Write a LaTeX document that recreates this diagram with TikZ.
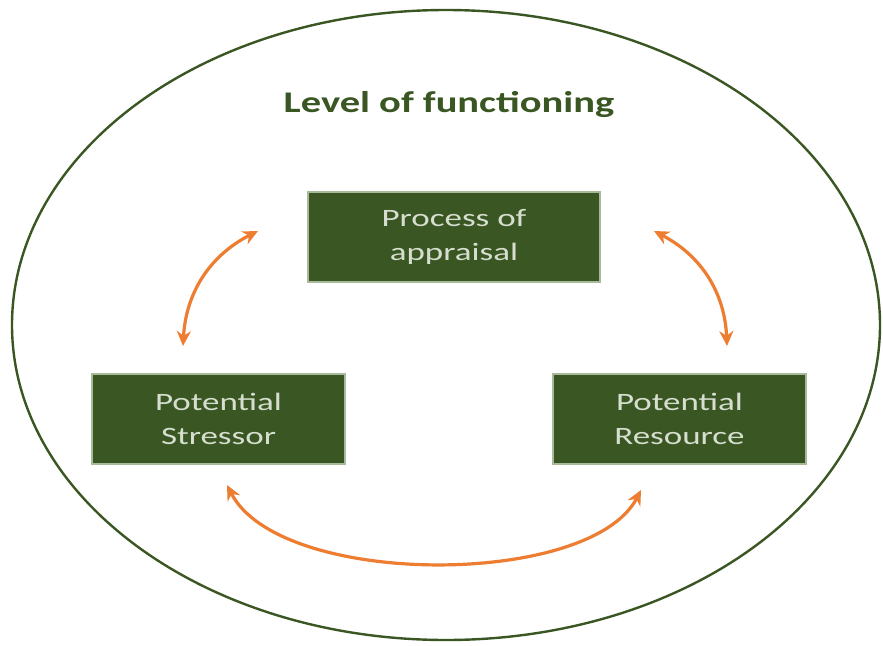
\documentclass[tikz,border=0pt]{standalone}
\usepackage{fontspec}
\setmainfont{Carlito}
\newfontfamily\boxfont[FakeStretch=1.4]{Carlito}
\newfontfamily\titlefont[FakeStretch=1.35]{Carlito}
\usetikzlibrary{arrows.meta,shapes.geometric}
\definecolor{darkgreen}{HTML}{3A5623}
\definecolor{edgegreen}{HTML}{A9B99C}
\definecolor{textgrey}{HTML}{D6DECF}
\definecolor{arroworange}{HTML}{ED7D31}
\tikzset{
  greenbox/.style={draw=edgegreen, line width=1.5pt, fill=darkgreen,
    minimum width=#1, minimum height=90pt, inner sep=0pt,
    text=textgrey, align=center,
    font=\boxfont\fontsize{25}{34}\selectfont},
  greenbox/.default=253pt,
  link/.style={draw=arroworange, line width=3.2pt,
    {Stealth[length=15pt,width=14pt]}-{Stealth[length=15pt,width=14pt]}}
}
\begin{document}
\begin{tikzpicture}[x=1pt,y=-1pt]
  \useasboundingbox (0,0) rectangle (883,645);
  % outer boundary
  \node[draw=darkgreen, line width=2.4pt, ellipse, minimum width=868pt,
        minimum height=630pt, inner sep=0pt] (frame) at (446,325) {};
  \node[text=darkgreen, font=\titlefont\bfseries\fontsize{30}{34}\selectfont]
        (title) at (449,104) {Level of functioning};
  % the three boxes
  \node[greenbox=292pt] (appraisal) at (454,237) {Process of\\appraisal};
  \node[greenbox] (stressor) at (218.5,419) {Potential\\Stressor};
  \node[greenbox] (resource) at (679.5,419) {Potential\\Resource};
  % arrow end points
  \coordinate (l1) at (258,231);
  \coordinate (l2) at (183,346);
  \coordinate (r1) at (654,231);
  \coordinate (r2) at (727,346);
  \coordinate (b1) at (227,485);
  \coordinate (b2) at (641,490);
  \draw[link] (l1) to[bend right=30] (l2);
  \draw[link] (r1) to[bend left=30] (r2);
  \draw[link] (b1) .. controls (280,588) and (590,588) .. (b2);
\end{tikzpicture}
\end{document}
